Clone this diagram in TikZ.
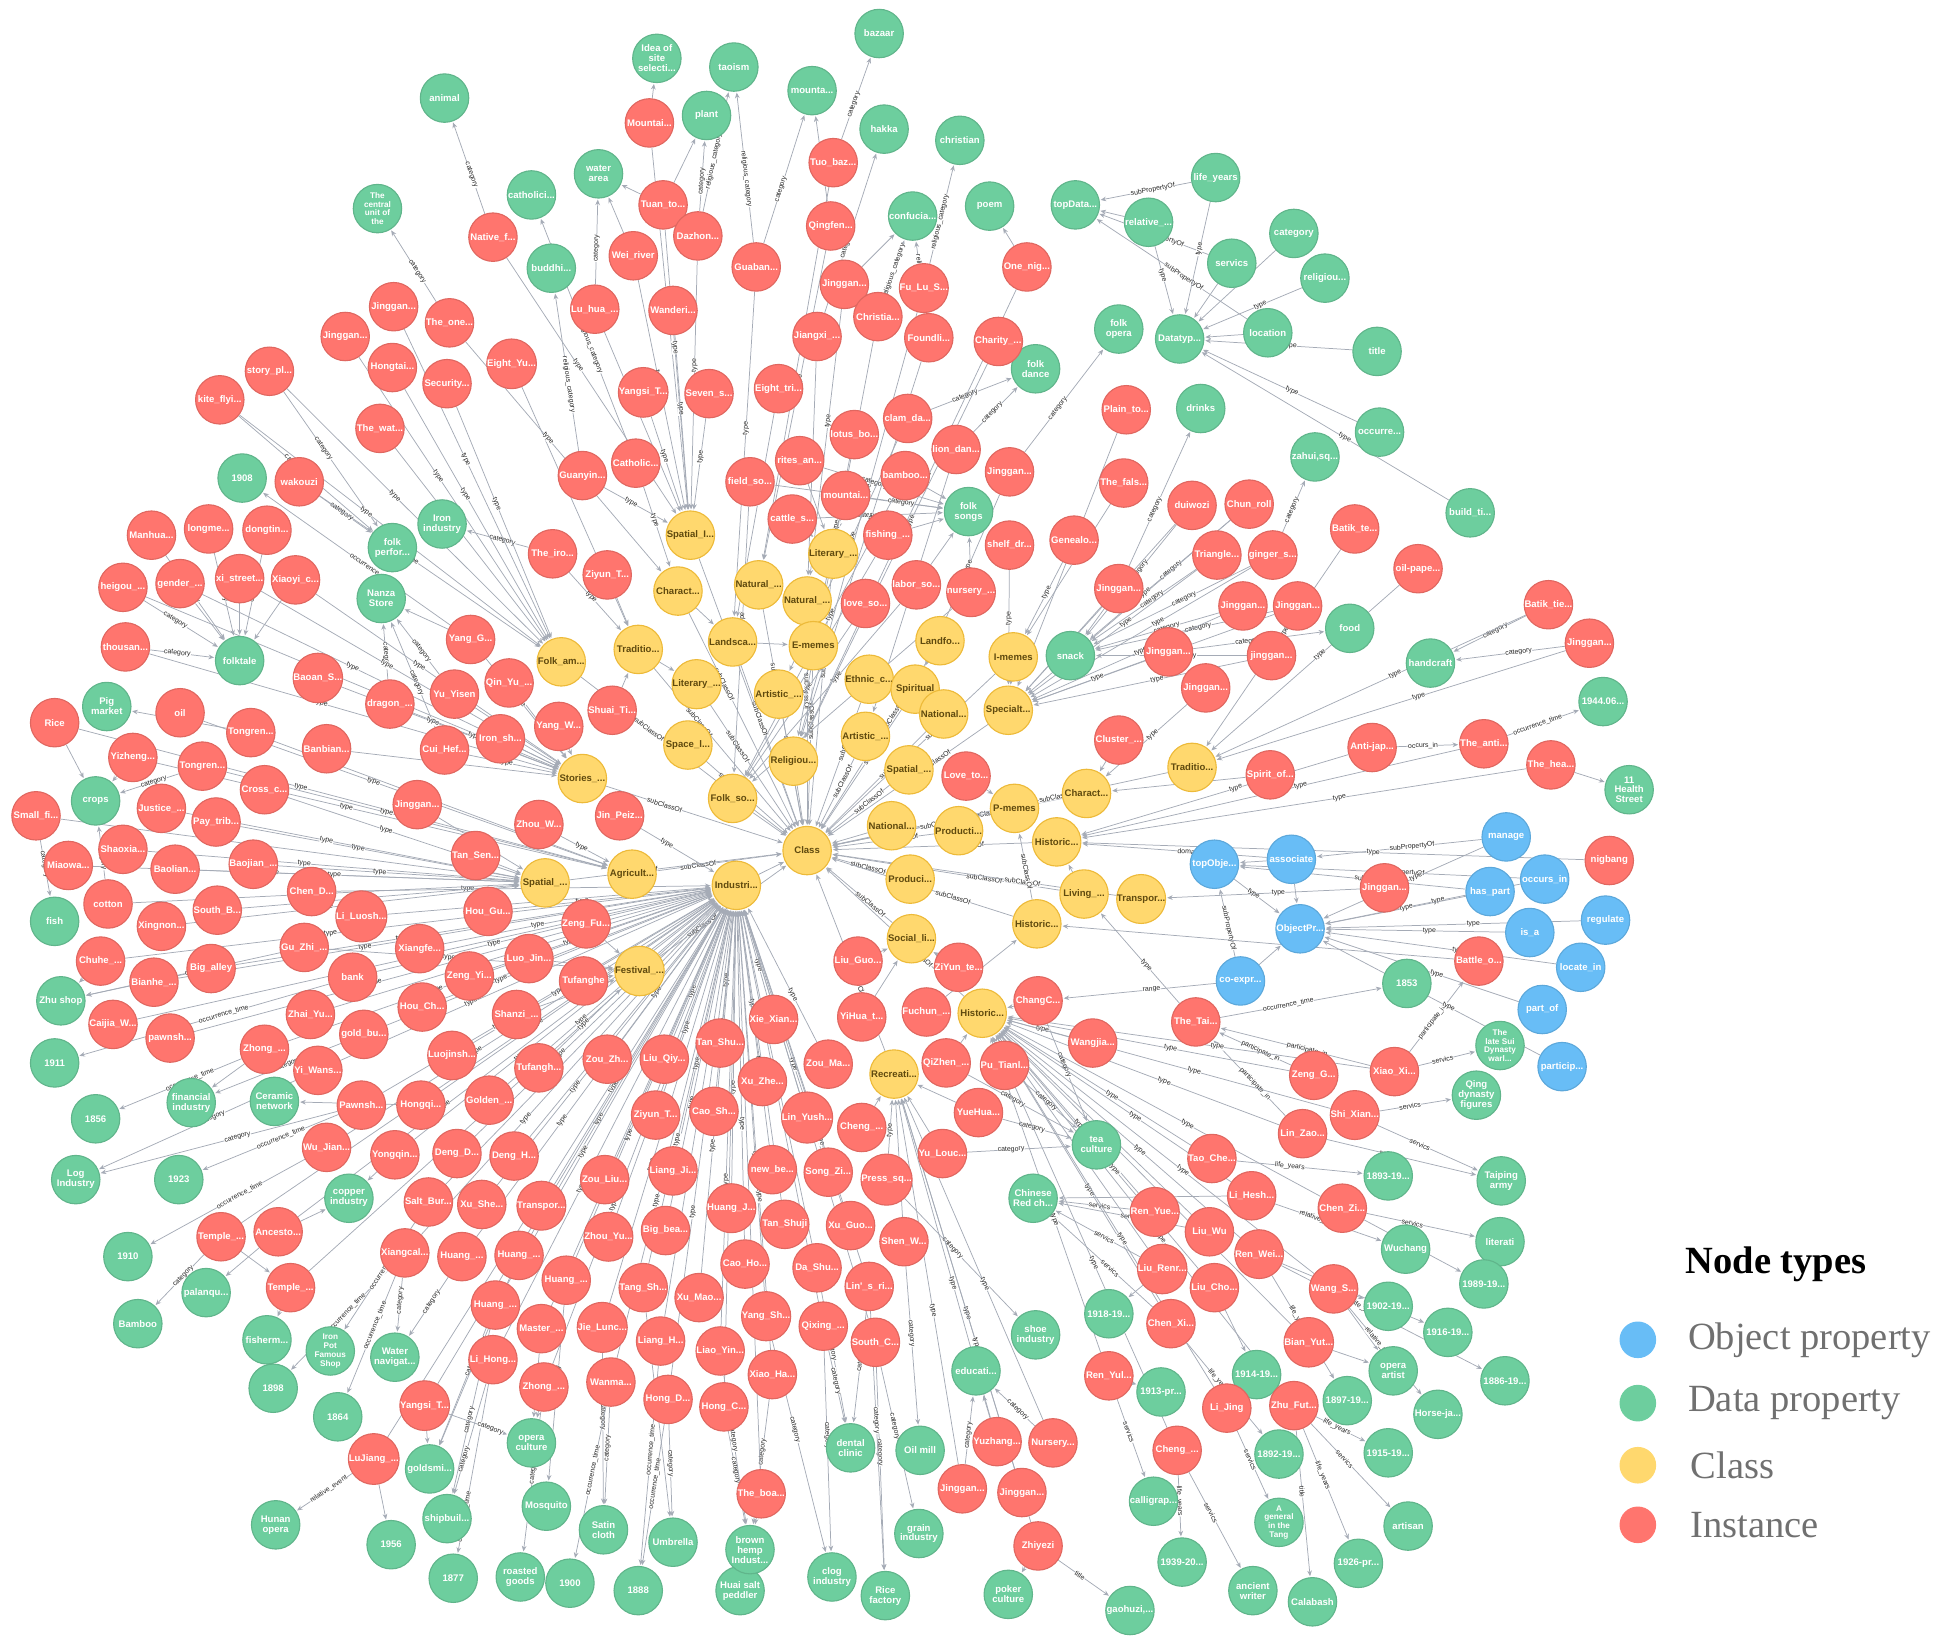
\documentclass[tikz,border=0pt]{standalone}
\usepackage{fontspec}
\newfontfamily\nf{Liberation Sans}
\newfontfamily\lf{Liberation Serif}
\usetikzlibrary{arrows.meta,calc}
\pgfdeclarelayer{bg}
\pgfsetlayers{bg,main}
\definecolor{cinst}{HTML}{FF756E}
\definecolor{cinstd}{HTML}{E06760}
\definecolor{cdat}{HTML}{6DCE9E}
\definecolor{cdatd}{HTML}{60B58B}
\definecolor{ccls}{HTML}{FFD86E}
\definecolor{cclsd}{HTML}{EDBA39}
\definecolor{cobj}{HTML}{68BDF6}
\definecolor{cobjd}{HTML}{5CA8DB}
\definecolor{ctxt}{HTML}{604A0E}
\definecolor{cedge}{HTML}{A5ABB6}
\definecolor{clgd}{HTML}{707070}
\tikzset{
  nd/.style={circle, minimum size=39pt, inner sep=0pt, line width=0.9pt, align=center, text=white,
    font=\nf\bfseries\fontsize{7.7}{8}\selectfont},
  four/.style={font=\nf\bfseries\fontsize{6.6}{7}\selectfont},
  inst/.style={nd, fill=cinst, draw=cinstd},
  dat/.style={nd, fill=cdat, draw=cdatd},
  cls/.style={nd, fill=ccls, draw=cclsd, text=ctxt},
  obj/.style={nd, fill=cobj, draw=cobjd},
  edg/.style={draw=cedge, line width=0.6pt, -{Stealth[length=4.5pt,width=3.8pt]}, shorten >=0.8pt},
  elab/.style={font=\nf\fontsize{5.6}{6}\selectfont, sloped, fill=white, inner sep=0.2pt, text=black!85},
  lgc/.style={circle, minimum size=29.5pt, inner sep=0pt},
  lgt/.style={anchor=west, text=clgd, font=\lf\fontsize{31}{33}\selectfont}
}
% edge with label at a given position; the label is only shown when the edge is long enough
\newcommand{\lnkp}[4]{%
  \path let \p1=($(#2)-(#1)$) in \pgfextra{\pgfmathveclen{\x1}{\y1}\global\let\elen\pgfmathresult};%
  \ifdim\elen pt>82pt
    \draw[edg] (#1) -- node[elab,pos=#4]{#3} (#2);%
  \else
    \draw[edg] (#1) -- (#2);%
  \fi}
\newcommand{\lnk}[3]{\lnkp{#1}{#2}{#3}{0.42}}
\begin{document}
\begin{tikzpicture}[x=1pt,y=-1pt]
\useasboundingbox (0,0) rectangle (1568,1324);
% ---------------- classes
\node[cls] (yspatialI) at (556,431) {Spatial\_I...};
\node[cls] (yliteraryA) at (671,446) {Literary\_...};
\node[cls] (ycharactA) at (546,476) {Charact...};
\node[cls] (ynaturalA) at (611,471) {Natural\_...};
\node[cls] (ynaturalB) at (650,484) {Natural\_...};
\node[cls] (ytraditioA) at (514,523) {Traditio...};
\node[cls] (yfolkam) at (452,533) {Folk\_am...};
\node[cls] (ylandsca) at (590,517) {Landsca...};
\node[cls] (yememes) at (655,520) {E-memes};
\node[cls] (ylandfo) at (757,516) {Landfo...};
\node[cls] (yimemes) at (816,529) {I-memes};
\node[cls] (yliteraryB) at (561,551) {Literary\_...};
\node[cls] (yartisticA) at (627,559) {Artistic\_...};
\node[cls] (yethnic) at (700,547) {Ethnic\_c...};
\node[cls] (yspiritual) at (737,555) {Spiritual};
\node[cls] (ynationalA) at (760,575) {National...};
\node[cls] (yspecialt) at (812,572) {Specialt...};
\node[cls] (yartisticB) at (697,593) {Artistic\_...};
\node[cls] (yspacel) at (554,600) {Space\_l...};
\node[cls] (yreligiou) at (639,613) {Religiou...};
\node[cls] (yspatialB) at (732,620) {Spatial\_...};
\node[cls] (ystories) at (469,627) {Stories\_...};
\node[cls] (yfolkso) at (590,643) {Folk\_so...};
\node[cls] (ycharactB) at (875,639) {Charact...};
\node[cls] (ytraditioB) at (960,618) {Traditio...};
\node[cls] (ypmemes) at (817,651) {P-memes};
\node[cls] (ynationalB) at (718,665) {National...};
\node[cls] (yproducti) at (772,669) {Producti...};
\node[cls] (yhistoricA) at (851,678) {Historic...};
\node[cls] (yclass) at (650,685) {Class};
\node[cls] (yindustri) at (593,713) {Industri...};
\node[cls] (yagricult) at (509,704) {Agricult...};
\node[cls] (yspatialC) at (439,711) {Spatial\_...};
\node[cls] (yproduci) at (733,708) {Produci...};
\node[cls] (yliving) at (873,720) {Living\_...};
\node[cls] (ytranspor) at (919,724) {Transpor...};
\node[cls] (yhistoricB) at (835,744) {Historic...};
\node[cls] (ysocial) at (734,756) {Social\_li...};
\node[cls] (yfestival) at (515,782) {Festival\_...};
\node[cls] (yhistoricC) at (791,816) {Historic...};
\node[cls] (yrecreati) at (720,865) {Recreati...};
% ---------------- object properties
\node[obj] (btopobje) at (978,696) {topObje...};
\node[obj] (bassociate) at (1040,692) {associate};
\node[obj] (bobjectpr) at (1047,748) {ObjectPr...};
\node[obj] (bcoexpr) at (999,790) {co-expr...};
\node[obj] (bmanage) at (1213,674) {manage};
\node[obj] (boccurs) at (1244,708) {occurs\_in};
\node[obj] (bhaspart) at (1200,718) {has\_part};
\node[obj] (bisa) at (1232,751) {is\_a};
\node[obj] (bregulate) at (1293,741) {regulate};
\node[obj] (blocate) at (1273,779) {locate\_in};
\node[obj] (bpartof) at (1242,813) {part\_of};
\node[obj] (bparticip) at (1258,859) {particip...};
% ---------------- data (top)
\node[dat] (ganimal) at (358,79) {animal};
\node[dat] (gidea) at (529,47) {Idea of\\site\\selecti...};
\node[dat] (gtaoism) at (591,54) {taoism};
\node[dat] (gbazaar) at (708,27) {bazaar};
\node[dat] (gplant) at (569,93) {plant};
\node[dat] (gmounta) at (654,73) {mounta...};
\node[dat] (ghakka) at (712,104) {hakka};
\node[dat] (gchristian) at (773,113) {christian};
\node[dat] (gwater) at (482,140) {water\\area};
\node[dat] (gcatholici) at (428,157) {catholici...};
\node[dat,four] (gcentral) at (304,168) {The\\central\\unit of\\the};
\node[dat] (gconfucia) at (735,174) {confucia...};
\node[dat] (gpoem) at (797,166) {poem};
\node[dat] (gbuddhi) at (444,216) {buddhi...};
\node[dat] (gfolkdance) at (834,297) {folk\\dance};
\node[dat] (gfolkopera) at (901,265) {folk\\opera};
\node[dat] (gdrinks) at (967,329) {drinks};
\node[dat] (gzahui) at (1059,368) {zahui,sq...};
\node[dat] (gfolksongs) at (780,412) {folk\\songs};
\node[dat] (gfolkperfor) at (316,441) {folk\\perfor...};
\node[dat] (gironind) at (356,422) {Iron\\industry};
\node[dat] (g1908) at (195,385) {1908};
\node[dat] (gnanza) at (307,482) {Nanza\\Store};
\node[dat] (gfolktale) at (193,532) {folktale};
\node[dat] (gsnack) at (862,528) {snack};
\node[dat] (gfood) at (1087,506) {food};
\node[dat] (ghandcraft) at (1152,534) {handcraft};
\node[dat] (g1944) at (1291,565) {1944.06...};
\node[dat] (ghealth) at (1312,636) {11\\Health\\Street};
\node[dat] (gtopdata) at (866,165) {topData...};
\node[dat] (glife) at (979,143) {life\_years};
\node[dat] (grelative) at (925,179) {relative\_...};
\node[dat] (gcategory) at (1042,188) {category};
\node[dat] (gservics) at (992,212) {servics};
\node[dat] (greligiou) at (1067,224) {religiou...};
\node[dat] (gdatatyp) at (950,273) {Datatyp...};
\node[dat] (glocation) at (1021,268) {location};
\node[dat] (gtitle) at (1109,283) {title};
\node[dat] (goccurre) at (1111,348) {occurre...};
\node[dat] (gbuild) at (1184,413) {build\_ti...};
% ---------------- data (left / bottom)
\node[dat] (gpigmarket) at (86,569) {Pig\\market};
\node[dat] (gcrops) at (77,645) {crops};
\node[dat] (gfish) at (44,742) {fish};
\node[dat] (gzhushop) at (49,806) {Zhu shop};
\node[dat] (g1911) at (44,856) {1911};
\node[dat] (g1856) at (77,901) {1856};
\node[dat] (gfinancial) at (154,888) {financial\\industry};
\node[dat] (gceramic) at (221,887) {Ceramic\\network};
\node[dat] (glog) at (61,950) {Log\\Industry};
\node[dat] (g1923) at (144,950) {1923};
\node[dat] (gcopper) at (281,965) {copper\\industry};
\node[dat] (g1910) at (103,1012) {1910};
\node[dat] (gpalanqu) at (166,1041) {palanqu...};
\node[dat] (gbamboo) at (111,1066) {Bamboo};
\node[dat] (gfisherm) at (215,1079) {fisherm...};
\node[dat,four] (gironpot) at (266,1088) {Iron\\Pot\\Famous\\Shop};
\node[dat] (gwaternav) at (318,1093) {Water\\navigat...};
\node[dat] (g1898) at (220,1118) {1898};
\node[dat] (g1864) at (272,1141) {1864};
\node[dat] (ggoldsmi) at (346,1183) {goldsmi...};
\node[dat] (goperacult) at (428,1162) {opera\\culture};
\node[dat] (ghunan) at (222,1228) {Hunan\\opera};
\node[dat] (g1956) at (315,1244) {1956};
\node[dat] (gshipbuil) at (360,1223) {shipbuil...};
\node[dat] (g1877) at (365,1271) {1877};
\node[dat] (gmosquito) at (440,1213) {Mosquito};
\node[dat] (groasted) at (419,1270) {roasted\\goods};
\node[dat] (g1900) at (459,1275) {1900};
\node[dat] (gsatin) at (486,1232) {Satin\\cloth};
\node[dat] (g1888) at (514,1281) {1888};
\node[dat] (gumbrella) at (542,1242) {Umbrella};
\node[dat] (ghuaisalt) at (596,1281) {Huai salt\\peddler};
\node[dat] (gbrownhemp) at (604,1248) {brown\\hemp\\Indust...};
\node[dat] (gclog) at (670,1270) {clog\\industry};
\node[dat] (gricefac) at (713,1285) {Rice\\factory};
\node[dat] (ggrain) at (740,1235) {grain\\industry};
\node[dat] (gdental) at (685,1166) {dental\\clinic};
\node[dat] (goilmill) at (741,1168) {Oil mill};
\node[dat] (gtea) at (883,922) {tea\\culture};
\node[dat] (gchinesered) at (832,965) {Chinese\\Red ch...};
\node[dat] (gshoe) at (834,1075) {shoe\\industry};
\node[dat] (geducati) at (786,1104) {educati...};
\node[dat] (gpoker) at (812,1284) {poker\\culture};
\node[dat] (ggaohuzi) at (910,1297) {gaohuzi,...};
\node[dat] (g1853) at (1133,792) {1853};
\node[dat,four] (glatesui) at (1208,842) {The\\late Sui\\Dynasty\\warl...};
\node[dat] (gqing) at (1189,882) {Qing\\dynasty\\figures};
\node[dat] (g1893) at (1118,947) {1893-19...};
\node[dat] (gtaiping) at (1209,951) {Taiping\\army};
\node[dat] (gwuchang) at (1132,1006) {Wuchang};
\node[dat] (gliterati) at (1208,1000) {literati};
\node[dat] (g1989) at (1195,1034) {1989-19...};
\node[dat] (g1918) at (893,1058) {1918-19...};
\node[dat] (g1902) at (1118,1052) {1902-19...};
\node[dat] (g1916) at (1166,1073) {1916-19...};
\node[dat] (goperaartist) at (1122,1104) {opera\\artist};
\node[dat] (g1914) at (1012,1107) {1914-19...};
\node[dat] (g1886) at (1212,1112) {1886-19...};
\node[dat] (g1913) at (935,1121) {1913-pr...};
\node[dat] (g1897) at (1085,1128) {1897-19...};
\node[dat] (ghorse) at (1158,1139) {Horse-ja...};
\node[dat] (g1892) at (1030,1171) {1892-19...};
\node[dat] (g1915) at (1118,1170) {1915-19...};
\node[dat] (gcalligrap) at (929,1209) {calligrap...};
\node[dat,four] (ggeneral) at (1030,1226) {A\\general\\in the\\Tang};
\node[dat] (gartisan) at (1134,1229) {artisan};
\node[dat] (g1939) at (952,1258) {1939-20...};
\node[dat] (g1926) at (1094,1259) {1926-pr...};
\node[dat] (gancient) at (1009,1281) {ancient\\writer};
\node[dat] (gcalabash) at (1057,1290) {Calabash};
% ---------------- instances (top)
\node[inst] (rmountaiA) at (523,99) {Mountai...};
\node[inst] (rtuo) at (671,131) {Tuo\_baz...};
\node[inst] (rtuan) at (534,165) {Tuan\_to...};
\node[inst] (rqingfen) at (669,182) {Qingfen...};
\node[inst] (rdazhon) at (562,190) {Dazhon...};
\node[inst] (rnative) at (397,191) {Native\_f...};
\node[inst] (rweiriver) at (510,206) {Wei\_river};
\node[inst] (rguaban) at (609,215) {Guaban...};
\node[inst] (ronenig) at (827,215) {One\_nig...};
\node[inst] (rjgA) at (680,229) {Jinggan...};
\node[inst] (rfulu) at (744,232) {Fu\_Lu\_S...};
\node[inst] (rluhua) at (479,249) {Lu\_hua\_...};
\node[inst] (rwanderi) at (542,250) {Wanderi...};
\node[inst] (rchristia) at (707,255) {Christia...};
\node[inst] (rcharity) at (804,275) {Charity\_...};
\node[inst] (rfoundli) at (748,272) {Foundli...};
\node[inst] (rjiangxi) at (658,271) {Jiangxi\_...};
\node[inst] (rjgB) at (317,247) {Jinggan...};
\node[inst] (rtheone) at (362,260) {The\_one...};
\node[inst] (rjgC) at (278,271) {Jinggan...};
\node[inst] (rhongtai) at (316,296) {Hongtai...};
\node[inst] (rsecurity) at (360,309) {Security...};
\node[inst] (reightyu) at (412,293) {Eight\_Yu...};
\node[inst] (rstorypl) at (217,299) {story\_pl...};
\node[inst] (rkite) at (177,322) {kite\_flyi...};
\node[inst] (rthewat) at (306,345) {The\_wat...};
\node[inst] (ryangsiA) at (518,316) {Yangsi\_T...};
\node[inst] (rseven) at (571,317) {Seven\_s...};
\node[inst] (reighttri) at (627,313) {Eight\_tri...};
\node[inst] (rclam) at (731,337) {clam\_da...};
\node[inst] (rlotus) at (688,350) {lotus\_bo...};
\node[inst] (rlion) at (770,362) {lion\_dan...};
\node[inst] (rjgD) at (813,380) {Jinggan...};
\node[inst] (rplain) at (907,330) {Plain\_to...};
\node[inst] (rthefals) at (905,389) {The\_fals...};
\node[inst] (rguanyin) at (469,383) {Guanyin...};
\node[inst] (rcatholic) at (512,373) {Catholic...};
\node[inst] (rfieldso) at (604,388) {field\_so...};
\node[inst] (rrites) at (644,371) {rites\_an...};
\node[inst] (rbamboo) at (729,383) {bamboo...};
\node[inst] (rmountaiB) at (681,399) {mountai...};
\node[inst] (rcattle) at (638,418) {cattle\_s...};
\node[inst] (rfishing) at (715,431) {fishing\_...};
\node[inst] (rwakouzi) at (241,388) {wakouzi};
\node[inst] (rduiwozi) at (960,407) {duiwozi};
\node[inst] (rchunroll) at (1006,406) {Chun\_roll};
\node[inst] (rbatikte) at (1091,426) {Batik\_te...};
\node[inst] (rgenealo) at (865,435) {Genealo...};
\node[inst] (rshelf) at (813,439) {shelf\_dr...};
\node[inst] (rtriangle) at (980,447) {Triangle...};
\node[inst] (rginger) at (1025,447) {ginger\_s...};
\node[inst] (roilpape) at (1142,458) {oil-pape...};
\node[inst] (rtheiro) at (445,446) {The\_iro...};
\node[inst] (rziyunA) at (489,463) {Ziyun\_T...};
\node[inst] (rlabor) at (738,471) {labor\_so...};
\node[inst] (rnursery) at (782,477) {nursery\_...};
\node[inst] (rloveso) at (697,486) {love\_so...};
\node[inst] (rjgE) at (901,474) {Jinggan...};
\node[inst] (rjgF) at (1001,488) {Jinggan...};
\node[inst] (rjgG) at (1045,488) {Jinggan...};
\node[inst] (rbatiktie) at (1247,487) {Batik\_tie...};
\node[inst] (rjgH) at (1280,518) {Jinggan...};
\node[inst] (rjgI) at (941,525) {Jinggan...};
\node[inst] (rjgJ) at (1024,528) {jinggan...};
\node[inst] (rjgK) at (971,554) {Jinggan...};
\node[inst] (rcluster) at (901,596) {Cluster\_...};
\node[inst] (rantijap) at (1105,602) {Anti-jap...};
\node[inst] (rtheanti) at (1195,599) {The\_anti...};
\node[inst] (rspirit) at (1023,624) {Spirit\_of...};
\node[inst] (rthehea) at (1249,616) {The\_hea...};
\node[inst] (rloveto) at (778,625) {Love\_to...};
\node[inst] (rjgO) at (1115,715) {Jinggan...};
\node[inst] (rbattle) at (1191,774) {Battle\_o...};
\node[inst] (rnigbang) at (1296,693) {nigbang};
% ---------------- instances (left)
\node[inst] (rmanhua) at (122,431) {Manhua...};
\node[inst] (rlongme) at (168,426) {longme...};
\node[inst] (rdongtin) at (215,427) {dongtin...};
\node[inst] (rheigou) at (99,473) {heigou\_...};
\node[inst] (rgender) at (145,470) {gender\_...};
\node[inst] (rxistreet) at (193,466) {xi\_street...};
\node[inst] (rxiaoyi) at (238,467) {Xiaoyi\_c...};
\node[inst] (rthousan) at (101,521) {thousan...};
\node[inst] (ryangg) at (379,515) {Yang\_G...};
\node[inst] (rbaoan) at (256,546) {Baoan\_S...};
\node[inst] (rqinyu) at (410,550) {Qin\_Yu\_...};
\node[inst] (ryuyisen) at (366,559) {Yu\_Yisen};
\node[inst] (rdragon) at (314,567) {dragon\_...};
\node[inst] (ryangw) at (450,585) {Yang\_W...};
\node[inst] (rshuai) at (493,572) {Shuai\_Ti...};
\node[inst] (rironsh) at (403,595) {Iron\_sh...};
\node[inst] (rcuihef) at (358,604) {Cui\_Hef...};
\node[inst] (rbanbian) at (263,603) {Banbian...};
\node[inst] (rrice) at (44,582) {Rice};
\node[inst] (roil) at (145,574) {oil};
\node[inst] (rtongrenA) at (202,590) {Tongren...};
\node[inst] (ryizheng) at (107,610) {Yizheng...};
\node[inst] (rtongrenB) at (163,617) {Tongren...};
\node[inst] (rjustice) at (130,651) {Justice\_...};
\node[inst] (rpaytrib) at (174,662) {Pay\_trib...};
\node[inst] (rcrossc) at (213,636) {Cross\_c...};
\node[inst] (rjgL) at (336,648) {Jinggan...};
\node[inst] (rsmallfi) at (29,657) {Small\_fi...};
\node[inst] (rshaoxia) at (99,684) {Shaoxia...};
\node[inst] (rbaolian) at (141,700) {Baolian...};
\node[inst] (rbaojian) at (204,696) {Baojian\_...};
\node[inst] (rtansen) at (383,689) {Tan\_Sen...};
\node[inst] (rzhouw) at (434,664) {Zhou\_W...};
\node[inst] (rjinpeiz) at (499,657) {Jin\_Peiz...};
\node[inst] (rmiaowa) at (55,697) {Miaowa...};
\node[inst] (rcotton) at (87,728) {cotton};
\node[inst] (rchend) at (251,718) {Chen\_D...};
\node[inst] (rsouthb) at (175,733) {South\_B...};
\node[inst] (rliluosh) at (291,738) {Li\_Luosh...};
\node[inst] (rhougu) at (393,734) {Hou\_Gu...};
\node[inst] (rxingnon) at (130,746) {Xingnon...};
\node[inst] (rguzhi) at (245,763) {Gu\_Zhi\_...};
\node[inst] (rxiangfe) at (338,764) {Xiangfe...};
\node[inst] (rzengfu) at (472,744) {Zeng\_Fu...};
\node[inst] (rluojin) at (426,772) {Luo\_Jin...};
\node[inst] (rchuhe) at (81,774) {Chuhe\_...};
\node[inst] (rbigalley) at (170,780) {Big\_alley};
\node[inst] (rbianhe) at (124,791) {Bianhe\_...};
\node[inst] (rbank) at (284,787) {bank};
\node[inst] (rzengyi) at (378,786) {Zeng\_Yi...};
\node[inst] (rtufanghe) at (470,790) {Tufanghe};
\node[inst] (rcaijia) at (91,825) {Caijia\_W...};
\node[inst] (rpawnshA) at (137,836) {pawnsh...};
\node[inst] (rzhaiyu) at (250,817) {Zhai\_Yu...};
\node[inst] (rhouch) at (340,811) {Hou\_Ch...};
\node[inst] (rgoldbu) at (293,833) {gold\_bu...};
\node[inst] (rshanzi) at (416,817) {Shanzi\_...};
\node[inst] (rzhongA) at (213,845) {Zhong\_...};
\node[inst] (rluojinsh) at (364,850) {Luojinsh...};
\node[inst] (rtufangh) at (434,860) {Tufangh...};
\node[inst] (ryiwans) at (256,862) {Yi\_Wans...};
\node[inst] (rpawnshB) at (291,890) {Pawnsh...};
\node[inst] (rhongqi) at (339,890) {Hongqi...};
\node[inst] (rgolden) at (394,886) {Golden\_...};
\node[inst] (rwujian) at (263,924) {Wu\_Jian...};
\node[inst] (ryongqin) at (318,930) {Yongqin...};
\node[inst] (rdengd) at (368,929) {Deng\_D...};
\node[inst] (rdengh) at (414,931) {Deng\_H...};
\node[inst] (rsaltbur) at (345,968) {Salt\_Bur...};
\node[inst] (rxushe) at (388,970) {Xu\_She...};
\node[inst] (rtransporR) at (436,971) {Transpor...};
\node[inst] (rzouliu) at (487,950) {Zou\_Liu...};
\node[inst] (rtempleA) at (178,996) {Temple\_...};
\node[inst] (rancesto) at (224,992) {Ancesto...};
\node[inst] (rxiangcal) at (326,1009) {Xiangcal...};
\node[inst] (rhuangA) at (372,1012) {Huang\_...};
\node[inst] (rhuangB) at (418,1011) {Huang\_...};
\node[inst] (rzhouyu) at (490,996) {Zhou\_Yu...};
\node[inst] (rtempleB) at (234,1037) {Temple\_...};
\node[inst] (rhuangC) at (399,1051) {Huang\_...};
\node[inst] (rhuangD) at (456,1031) {Huang\_...};
\node[inst] (rmaster) at (436,1070) {Master\_...};
\node[inst] (rlihong) at (397,1095) {Li\_Hong...};
\node[inst] (rzhongB) at (438,1117) {Zhong\_...};
\node[inst] (ryangsiB) at (342,1132) {Yangsi\_T...};
\node[inst] (rlujiang) at (301,1175) {LuJiang\_...};
% ---------------- instances (bottom)
\node[inst] (rziyunB) at (528,898) {Ziyun\_T...};
\node[inst] (rcaosh) at (575,895) {Cao\_Sh...};
\node[inst] (rlinyush) at (650,900) {Lin\_Yush...};
\node[inst] (rchengA) at (694,908) {Cheng\_...};
\node[inst] (rxuzhe) at (614,871) {Xu\_Zhe...};
\node[inst] (rliangji) at (542,943) {Liang\_Ji...};
\node[inst] (rnewbe) at (622,942) {new\_be...};
\node[inst] (rsongzi) at (667,944) {Song\_Zi...};
\node[inst] (rpresssq) at (714,950) {Press\_sq...};
\node[inst] (ryulouc) at (759,929) {Yu\_Louc...};
\node[inst] (rhuangj) at (589,973) {Huang\_J...};
\node[inst] (rtanshuji) at (632,986) {Tan\_Shuji};
\node[inst] (rxuguo) at (685,987) {Xu\_Guo...};
\node[inst] (rshenw) at (728,1000) {Shen\_W...};
\node[inst] (rbigbea) at (536,991) {Big\_bea...};
\node[inst] (rcaoho) at (600,1018) {Cao\_Ho...};
\node[inst] (rdashu) at (658,1021) {Da\_Shu...};
\node[inst] (rlinsri) at (700,1036) {Lin'\_s\_ri...};
\node[inst] (rtangsh) at (518,1037) {Tang\_Sh...};
\node[inst] (rxumao) at (563,1045) {Xu\_Mao...};
\node[inst] (ryangsh) at (617,1060) {Yang\_Sh...};
\node[inst] (rqixing) at (663,1068) {Qixing\_...};
\node[inst] (rsouthc) at (705,1081) {South\_C...};
\node[inst] (rjielunc) at (485,1069) {Jie\_Lunc...};
\node[inst] (rliangh) at (532,1080) {Liang\_H...};
\node[inst] (rliaoyin) at (580,1088) {Liao\_Yin...};
\node[inst] (rxiaoha) at (622,1107) {Xiao\_Ha...};
\node[inst] (rwanma) at (492,1113) {Wanma...};
\node[inst] (rhongd) at (538,1127) {Hong\_D...};
\node[inst] (rhongc) at (583,1133) {Hong\_C...};
\node[inst] (rtheboa) at (613,1203) {The\_boa...};
\node[inst] (rzouzh) at (489,853) {Zou\_Zh...};
\node[inst] (rliuqiy) at (535,853) {Liu\_Qiy...};
\node[inst] (rtanshu) at (580,840) {Tan\_Shu...};
\node[inst] (rxiexian) at (623,821) {Xie\_Xian...};
\node[inst] (rzouma) at (667,857) {Zou\_Ma...};
\node[inst] (ryihua) at (694,819) {YiHua\_t...};
\node[inst] (rliuguo) at (691,774) {Liu\_Guo...};
\node[inst] (rziyunte) at (772,779) {ZiYun\_te...};
\node[inst] (rfuchun) at (746,815) {Fuchun\_...};
\node[inst] (rqizhen) at (762,856) {QiZhen\_...};
\node[inst] (rchangc) at (836,806) {ChangC...};
\node[inst] (rwangjia) at (880,840) {Wangjia...};
\node[inst] (rputianl) at (809,858) {Pu\_Tianl...};
\node[inst] (ryuehua) at (788,896) {YueHua...};
\node[inst] (ryuzhang) at (803,1161) {Yuzhang...};
\node[inst] (rnurseryB) at (848,1162) {Nursery...};
\node[inst] (rjgM) at (775,1199) {Jinggan...};
\node[inst] (rjgN) at (823,1202) {Jinggan...};
\node[inst] (rzhiyezi) at (836,1245) {Zhiyezi};
% ---------------- instances (right bottom)
\node[inst] (rthetai) at (963,823) {The\_Tai...};
\node[inst] (rzengg) at (1058,866) {Zeng\_G...};
\node[inst] (rxiaoxi) at (1123,863) {Xiao\_Xi...};
\node[inst] (rshixian) at (1091,898) {Shi\_Xian...};
\node[inst] (rlinzao) at (1049,913) {Lin\_Zao...};
\node[inst] (rtaoche) at (976,933) {Tao\_Che...};
\node[inst] (rrenyue) at (930,976) {Ren\_Yue...};
\node[inst] (rlihesh) at (1008,963) {Li\_Hesh...};
\node[inst] (rchenzi) at (1081,973) {Chen\_Zi...};
\node[inst] (rliuwu) at (974,992) {Liu\_Wu};
\node[inst] (rrenwei) at (1014,1010) {Ren\_Wei...};
\node[inst] (rliurenr) at (936,1022) {Liu\_Renr...};
\node[inst] (rliucho) at (978,1037) {Liu\_Cho...};
\node[inst] (rwangs) at (1074,1038) {Wang\_S...};
\node[inst] (rchenxi) at (943,1066) {Chen\_Xi...};
\node[inst] (rbianyut) at (1054,1081) {Bian\_Yut...};
\node[inst] (rrenyul) at (893,1108) {Ren\_Yul...};
\node[inst] (rlijing) at (988,1134) {Li\_Jing};
\node[inst] (rzhufut) at (1042,1132) {Zhu\_Fut...};
\node[inst] (rchengB) at (948,1168) {Cheng\_...};
% ---------------- legend
\node[font=\lf\bfseries\fontsize{31}{33}\selectfont, anchor=west] (lgtitle) at (1354,1018) {Node types};
\node[lgc, fill=cobj] (lgo) at (1319,1079) {};
\node[lgc, fill=cdat] (lgd) at (1319,1130) {};
\node[lgc, fill=ccls] (lgc) at (1319,1180) {};
\node[lgc, fill=cinst] (lgi) at (1319,1228) {};
\node[lgt] (lgot) at (1356,1079) {Object property};
\node[lgt] (lgdt) at (1356,1130) {Data property};
\node[lgt] (lgct) at (1358,1180) {Class};
\node[lgt] (lgit) at (1358,1228) {Instance};
% ================= edges
\begin{pgfonlayer}{bg}
% --- class hierarchy
\foreach \c in {yspatialI,yliteraryA,ycharactA,ynaturalA,ynaturalB,ytraditioA,yfolkam,ylandsca,yememes,ylandfo,yimemes,yliteraryB,yartisticA,yethnic,yspiritual,ynationalA,yspecialt,yartisticB,yspacel,yreligiou,yspatialB,ystories,yfolkso,ycharactB,ytraditioB,ypmemes,ynationalB,yproducti,yhistoricA,yindustri,yagricult,yspatialC,yproduci,yliving,ytranspor,yhistoricB,ysocial,yfestival,yhistoricC,yrecreati}
  {\lnkp{\c}{yclass}{subClassOf}{0.33}}
\lnk{ycharactA}{ylandsca}{subClassOf}
\lnk{ytraditioA}{yliteraryB}{subClassOf}
\lnk{ylandsca}{yememes}{sub...}
\lnk{yimemes}{yspecialt}{subClassOf}
\lnk{yliving}{yhistoricA}{subClassOf}
\lnk{yhistoricB}{ypmemes}{subClassOf}
% --- top data links
\lnk{rnative}{ganimal}{category}
\lnk{rtheone}{gcentral}{category}
\lnk{rmountaiA}{gidea}{category}
\lnk{rdazhon}{gtaoism}{religious\_category}
\lnk{rguaban}{gtaoism}{religious\_category}
\lnk{rtuan}{gplant}{category}
\lnk{rdazhon}{gplant}{category}
\lnk{rguaban}{gmounta}{category}
\lnk{rqingfen}{gmounta}{category}
\lnk{rtuo}{gbazaar}{category}
\lnk{rjiangxi}{ghakka}{category}
\lnk{rfulu}{gchristian}{religious\_category}
\lnk{rjgA}{gconfucia}{religiou...}
\lnk{rchristia}{gconfucia}{religious\_category}
\lnk{rfoundli}{gconfucia}{religious\_category}
\lnk{rluhua}{gwater}{category}
\lnk{rweiriver}{gwater}{categ...}
\lnk{rtuan}{gwater}{c...}
\lnk{rcatholic}{gcatholici}{religious\_category}
\lnk{rguanyin}{gbuddhi}{religious\_category}
\lnk{ronenig}{gpoem}{c...}
\lnk{rlion}{gfolkdance}{category}
\lnk{rclam}{gfolkdance}{category}
\lnk{rcharity}{gfolkdance}{category}
\lnk{rjgD}{gfolkopera}{category}
\lnk{rfieldso}{gfolksongs}{category}
\lnk{rmountaiB}{gfolksongs}{category}
\lnk{rfishing}{gfolksongs}{cate...}
\lnk{rbamboo}{gfolksongs}{category}
\lnk{rcattle}{gfolksongs}{category}
\lnk{rlabor}{gfolksongs}{category}
\lnk{rnursery}{gfolksongs}{category}
\lnk{rrites}{gfolksongs}{category}
\lnk{rkite}{gfolkperfor}{category}
\lnk{rstorypl}{gfolkperfor}{category}
\lnk{rwakouzi}{gfolkperfor}{category}
\lnk{rtheiro}{gironind}{category}
\lnk{ryangg}{g1908}{occurrence\_time}
\lnk{ryuyisen}{gnanza}{category}
\lnk{rdragon}{gnanza}{category}
\lnk{ryangg}{gnanza}{category}
\lnk{rcuihef}{gnanza}{category}
\foreach \s in {rheigou,rgender,rxistreet,rxiaoyi,rthousan,rmanhua,rlongme,rdongtin}
  {\lnk{\s}{gfolktale}{category}}
\lnk{rtongrenA}{gpigmarket}{category}
\lnk{rrice}{gcrops}{categ...}
\lnk{ryizheng}{gcrops}{category}
\lnk{rtongrenB}{gcrops}{category}
\lnk{rcotton}{gcrops}{category}
\lnk{rsmallfi}{gfish}{category}
\lnk{rbigalley}{gzhushop}{category}
\lnk{rchuhe}{gzhushop}{category}
\lnk{rguzhi}{gzhushop}{category}
\lnk{rbank}{g1911}{occurrence\_time}
\lnk{rzhongA}{g1856}{occurrence\_time}
\lnk{ryiwans}{glog}{category}
\lnk{rpawnshB}{glog}{category}
\lnk{rpawnshB}{g1923}{occurrence\_time}
\lnk{rgoldbu}{gfinancial}{category}
\lnk{rzhongA}{gfinancial}{category}
\lnk{rhongqi}{gceramic}{category}
\lnk{rwujian}{g1910}{occurrence\_time}
\lnk{rtempleA}{gbamboo}{category}
\lnk{rancesto}{gpalanqu}{category}
\lnk{rtempleA}{rtempleB}{part\_of}
\lnk{rtempleB}{gfisherm}{category}
\lnk{rancesto}{gcopper}{category}
\lnk{ryongqin}{gcopper}{category}
\lnk{rxiangcal}{g1898}{occurrence\_time}
\lnk{rsaltbur}{gironpot}{occurrence\_time}
\lnk{rxiangcal}{gwaternav}{category}
\lnk{rhuangA}{gwaternav}{category}
\lnk{rxiangcal}{g1864}{occurrence\_time}
\lnk{rlujiang}{ghunan}{relative\_event}
\lnk{ryangsiB}{ggoldsmi}{category}
\lnkp{rhuangC}{ggoldsmi}{category}{0.3}
\lnk{rhuangB}{ggoldsmi}{category}
\lnk{rlujiang}{g1956}{occurrence\_time}
\lnkp{rlihong}{gshipbuil}{category}{0.68}
\lnkp{rhuangC}{gshipbuil}{category}{0.55}
\lnkp{rlihong}{g1877}{occurrence\_time}{0.78}
\lnk{rzhongB}{goperacult}{category}
\lnk{rmaster}{goperacult}{category}
\lnkp{ryangsiB}{goperacult}{category}{0.7}
\lnk{rhuangD}{gmosquito}{category}
\lnk{rzhongB}{groasted}{category}
\lnk{rwanma}{gsatin}{category}
\lnk{rjielunc}{gsatin}{category}
\lnk{rwanma}{g1900}{occurrence\_time}
\lnk{rliangh}{g1888}{occurrence\_time}
\lnk{rhongd}{g1888}{occurrence\_time}
\lnk{rhongd}{gumbrella}{category}
\lnk{rtangsh}{gumbrella}{category}
\lnk{rhongc}{gbrownhemp}{category}
\lnk{rtheboa}{gbrownhemp}{category}
\lnk{rxiaoha}{gbrownhemp}{category}
\lnk{rliaoyin}{gbrownhemp}{category}
\lnk{rqixing}{gclog}{category}
\lnk{ryangsh}{gclog}{category}
\lnk{rsouthc}{gricefac}{category}
\lnk{rlinsri}{gricefac}{category}
\lnk{rsouthc}{ggrain}{category}
\lnk{rshenw}{goilmill}{category}
\lnk{rlinsri}{gdental}{category}
\lnk{rdashu}{gdental}{category}
\lnk{rqixing}{gdental}{category}
\lnk{ryuzhang}{geducati}{category}
\lnk{rnurseryB}{geducati}{category}
\lnk{rjgM}{geducati}{category}
\lnk{rzhiyezi}{gpoker}{category}
\lnk{rzhiyezi}{ggaohuzi}{title}
\foreach \s in {ryuehua,rputianl,rchangc,rqizhen,ryulouc}
  {\lnk{\s}{gtea}{category}}
\foreach \s in {rrenyue,rliurenr,rlihesh,rliuwu,rchenxi}
  {\lnk{\s}{gchinesered}{servics}}
\lnk{rpresssq}{gshoe}{category}
\lnk{rtaoche}{g1893}{life\_years}
\lnk{rshixian}{gtaiping}{servics}
\lnk{rlinzao}{gtaiping}{servics}
\lnk{rlihesh}{gwuchang}{relative\_event}
\lnk{rchenzi}{gliterati}{servics}
\lnk{rchenzi}{g1989}{life\_years}
\lnk{rwangs}{g1902}{life\_years}
\lnk{rrenwei}{g1916}{life\_years}
\lnk{rwangs}{goperaartist}{servics}
\lnk{rbianyut}{goperaartist}{servics}
\lnk{rwangs}{ghorse}{relative\_event}
\lnk{rrenwei}{g1886}{life\_years}
\lnk{rliucho}{g1914}{life\_years}
\lnk{rrenwei}{g1897}{life\_years}
\lnk{rliurenr}{g1918}{life\_years}
\lnk{rrenyul}{g1913}{life\_years}
\lnk{rrenyul}{gcalligrap}{servics}
\lnk{rchengB}{g1939}{life\_years}
\lnk{rchengB}{gancient}{servics}
\lnk{rlijing}{ggeneral}{servics}
\lnk{rzhufut}{gcalabash}{title}
\lnk{rzhufut}{g1926}{life\_years}
\lnk{rzhufut}{gartisan}{servics}
\lnk{rzhufut}{g1915}{life\_years}
\lnk{rchenxi}{g1892}{life\_years}
\lnk{rthetai}{g1853}{occurrence\_time}
\lnk{rzengg}{rthetai}{participate\_in}
\lnk{rxiaoxi}{rthetai}{participate\_in}
\lnk{rlinzao}{rthetai}{participate\_in}
\lnk{rxiaoxi}{rbattle}{participate\_in}
\lnk{rshixian}{gqing}{servics}
\lnk{rxiaoxi}{glatesui}{servics}
\lnk{rtheanti}{g1944}{occurrence\_time}
\lnk{rantijap}{rtheanti}{occurs\_in}
\lnk{rthehea}{ghealth}{loca...}
\lnk{rbatiktie}{ghandcraft}{category}
\lnk{rjgH}{ghandcraft}{category}
\foreach \s in {rjgE,rjgF,rjgG,rtriangle,rginger,rjgJ,rduiwozi,rchunroll}
  {\lnk{\s}{gsnack}{category}}
\lnk{rjgI}{gfood}{category}
\lnk{rjgE}{gdrinks}{category}
\lnk{rginger}{gzahui}{category}
% --- datatype cluster
\lnk{glife}{gtopdata}{subPropertyOf}
\lnk{grelative}{gtopdata}{s...}
\lnk{gservics}{gtopdata}{subPropertyOf}
\lnk{glocation}{gtopdata}{subPropertyOf}
\foreach \s in {grelative,glife,gservics,gcategory,greligiou,glocation,gtitle,goccurre,gbuild}
  {\lnk{\s}{gdatatyp}{type}}
% --- object properties
\lnk{bassociate}{btopobje}{su...}
\lnk{bcoexpr}{btopobje}{subPropertyOf}
\lnk{bmanage}{bassociate}{subPropertyOf}
\lnk{boccurs}{btopobje}{subPropertyOf}
\lnk{bhaspart}{btopobje}{subProp...}
\foreach \s in {bassociate,bcoexpr,btopobje,bmanage,boccurs,bhaspart,bisa,bregulate,blocate,bpartof,bparticip}
  {\lnk{\s}{bobjectpr}{type}}
\lnk{bassociate}{yhistoricA}{domain}
\lnk{bcoexpr}{rchangc}{range}
\lnk{rjgO}{ytranspor}{type}
\lnk{rnigbang}{yhistoricA}{type}
\lnk{rbattle}{yhistoricB}{type}
% --- type links into classes
\foreach \s in {rchend,rliluosh,rhougu,rxiangfe,rzengyi,rhouch,rluojinsh,rgoldbu,rbank,rzhaiyu,ryiwans,rpawnshB,rhongqi,rgolden,ryongqin,rdengd,rdengh,rsaltbur,rxushe,rtransporR,rzouliu,rzouzh,rliuqiy,rtanshu,rziyunB,rcaosh,rliangji,rbigbea,rhuangj,rxiexian,rxuzhe,rnewbe,rtanshuji,rlinyush,rzouma,rsongzi,rcaoho,rtangsh,rjielunc,rliangh,rxumao,rliaoyin,rwanma,rhongd,rhongc,ryangsh,rxiaoha,rhuangA,rhuangB,rhuangC,rhuangD,rmaster,rlihong,rzhongB,ryangsiB,rxiangcal,rtheboa,rdashu,rqixing,rsouthc,rlinsri,rxuguo,rwujian,rancesto,rtempleB,rtempleA,rlujiang,rcaijia,rpawnshA,rbianhe,rchuhe,rbigalley,rzhongA,rjinpeiz,rzhouyu}
  {\lnkp{\s}{yindustri}{type}{0.35}}
\foreach \s in {rsmallfi,rshaoxia,rmiaowa,rbaolian,rbaojian,rpaytrib,rcrossc,rjgL,rtansen,rcotton,rsouthb,rxingnon,rjustice}
  {\lnk{\s}{yspatialC}{type}}
\foreach \s in {rrice,roil,ryizheng,rtongrenA,rtongrenB,rzhouw}
  {\lnk{\s}{yagricult}{type}}
\foreach \s in {rzengfu,rluojin,rtufanghe,rshanzi,rtufangh,rguzhi}
  {\lnk{\s}{yfestival}{type}}
\foreach \s in {rheigou,rgender,rxistreet,rxiaoyi,rthousan,rbaoan,rbanbian,rdragon,ryuyisen,rcuihef,rironsh,rqinyu,ryangw,ryangg}
  {\lnk{\s}{ystories}{type}}
\foreach \s in {rkite,rstorypl,rwakouzi,rthewat,rhongtai,rjgC,rjgB,rsecurity}
  {\lnk{\s}{yfolkam}{type}}
\foreach \s in {rtheiro,rziyunA,reightyu,rshuai}
  {\lnk{\s}{ytraditioA}{type}}
\foreach \s in {ryangsiA,rseven,rmountaiA,rwanderi,rguanyin,rnative,rluhua,rweiriver,rtuan,rdazhon}
  {\lnk{\s}{yspatialI}{type}}
\lnk{rcatholic}{ycharactA}{type}
\lnk{rtheone}{ycharactA}{type}
\lnk{reighttri}{ylandsca}{type}
\lnk{rguaban}{ylandsca}{type}
\lnk{rrites}{yliteraryA}{type}
\lnk{rcattle}{yliteraryA}{type}
\lnk{rmountaiB}{yliteraryA}{type}
\lnk{rqingfen}{ynaturalA}{type}
\lnk{rtuo}{ynaturalA}{type}
\lnk{rjiangxi}{ynaturalB}{type}
\lnk{rjgA}{ynaturalB}{type}
\lnk{rlotus}{yememes}{type}
\foreach \s in {rfieldso,rfishing,rloveso,rlabor,rnursery,rbamboo}
  {\lnk{\s}{yfolkso}{type}}
\lnk{rclam}{yartisticA}{type}
\lnk{rlion}{yartisticB}{type}
\foreach \s in {rchristia,rfoundli,rfulu,rcharity,ronenig}
  {\lnk{\s}{yreligiou}{type}}
\lnk{rjgD}{yspiritual}{type}
\lnk{rgenealo}{yimemes}{type}
\lnk{rthefals}{yimemes}{type}
\foreach \s in {rjgE,rjgF,rjgG,rjgI,rjgJ,rtriangle,rginger,rduiwozi,rchunroll,rplain,rshelf}
  {\lnk{\s}{yspecialt}{type}}
\foreach \s in {rcluster,rjgK,rspirit}
  {\lnk{\s}{ycharactB}{type}}
\foreach \s in {rbatiktie,rjgH,roilpape,rbatikte}
  {\lnk{\s}{ytraditioB}{type}}
\foreach \s in {rantijap,rthehea,rtheanti}
  {\lnk{\s}{yhistoricA}{type}}
\lnk{rloveto}{ypmemes}{type}
\lnk{rthetai}{yliving}{type}
\lnk{rfuchun}{yhistoricB}{type}
\foreach \s in {rchangc,rwangjia,rtaoche,rrenyue,rlihesh,rliuwu,rrenwei,rliurenr,rliucho,rwangs,rchenxi,rbianyut,rrenyul,rlijing,rzhufut,rchengB,rchenzi,rzengg,rlinzao,rshixian,rxiaoxi,rputianl,rqizhen}
  {\lnk{\s}{yhistoricC}{type}}
\foreach \s in {rchengA,ryulouc,ryuehua,rpresssq,rshenw,rjgM,rjgN,rnurseryB,ryuzhang,rzhiyezi}
  {\lnk{\s}{yrecreati}{type}}
\foreach \s in {rliuguo,rziyunte,ryihua}
  {\lnk{\s}{ysocial}{type}}
\end{pgfonlayer}
\end{tikzpicture}
\end{document}
